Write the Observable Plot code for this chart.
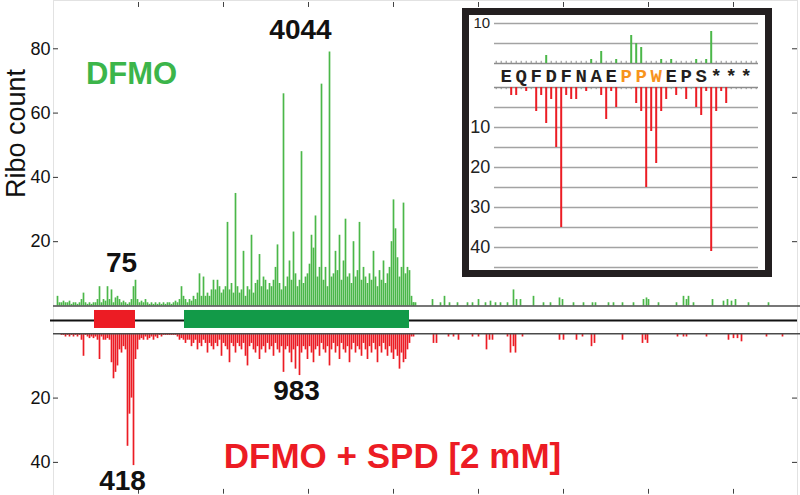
<!DOCTYPE html>
<html><head><meta charset="utf-8">
<script src="https://cdn.jsdelivr.net/npm/d3@7"></script>
<script src="https://cdn.jsdelivr.net/npm/@observablehq/plot@0.6"></script>
<style>
body{margin:0;background:#fff;}
#wrap{position:relative;width:800px;height:495px;overflow:hidden;background:#fff;}
#inset{position:absolute;left:462px;top:8px;width:310px;height:269px;box-sizing:border-box;border:7px solid #231f20;background:#fff;}
svg{display:block;}
</style></head><body>
<div id="wrap"><div id="main"></div><div id="inset"></div></div>
<script>
// ---------- DATA (main chart, positions in nt) ----------
const binStart = 24, binStep = 12; // dense read-out bins along the transcript
const greenDense = [
3,1,1,1.5,1,1,1.5,0.5,1,1,
0.5,1,2,4,1,0.5,1,0.5,1,1,
2,6,1,2,1.5,6,2,5,1,2.5,
3,2,1,1.5,1,0.5,1,2,6,8,
2,1,1.5,1,2,1,0.5,1,0.5,1,
0.5,1,0.5,1,0.5,1,1,0.5,1,1.5,
1,2,6,3,2,1,2,1.5,3,2,
4,10,3,9,3,4,3,5,8,5,
8,6,4,5,6,26,5,7,4,35,
6,4,5,17,3,6,5,22,4,7,
8,16,6,9,8,5,7,6,8,12,
19,7,5,66,6,9,14,8,23,10,
6,8,48,7,9,10,13,22,18,28,
9,12,69,8,12,6,79,9,10,17,
11,22,8,14,27,9,10,7,20,9,
11,26,8,12,9,7,10,8,17,9,
6,11,8,14,7,10,12,20,33,24,
15,9,12,32,10,12,11,3,1,1];
const redDense = [
0,0,0.5,0.5,1,0.5,1,0.5,1,0.5,
1,0.5,2,7,0.5,1,1.5,1,1.5,1,
2,8,1,2,2,1.5,2,9,14,12,
10,5,6,4,5,35,25,20,41,8,
5,2,1.5,2,1,2,1.5,1,2,1,
1.5,0.5,1,0.5,0.5,0.5,0.5,0.5,0.5,0.5,
1,2,1.5,2,3,2,2,4,3,2,
5,3,4,2,3,6,3,4,5,3,
4,2,7,3,4,5,9,3,4,6,
3,4,5,3,7,10,4,3,5,6,
4,8,5,4,6,3,5,4,7,3,
5,6,4,12,5,4,6,9,5,11,
4,13,6,4,5,8,4,6,9,5,
4,7,3,5,6,4,10,5,3,6,
4,8,3,5,6,4,9,5,3,6,
4,5,7,3,5,8,4,6,3,5,
9,4,6,3,5,7,4,6,8,5,
7,11,6,9,8,5,3,1,1,0];
const green3Pos = [2160,2274,2322,2346,2376,2424,2484,2514,2550,2592,2622,2652,2682,2724,2760,2778,2802,2880,2940,2982,3036,3054,3120,3180,3234,3252,3330,3360,3414,3480,3540,3558,3570,3630,3738,3780,3798,3810,3840,3954,4020,4044,4068,4092,4170,4290];
const green3Val = [1,2,1,3,1,1,1,1,2,1,1.5,1,1,1,5,2,2,3,1,1,2.5,2,1,1,1,1,1,1,1,1,2,2.5,2,1,1,3,2,3,1,2,1.5,2,1.5,2,1,1];
const red3Pos = [2280,2298,2370,2400,2430,2514,2550,2598,2616,2634,2724,2742,2760,2772,2814,3036,3060,3138,3174,3228,3246,3414,3534,3552,3564,3744,3780,3798,3918,4050,4080,4104,4128,4278,4374];
const red3Val = [3,3,1,1,2,1,1,5,2,2,1,6,4,6,1,2,2,2,1,4,3,2,3,2,3,1,1,1,1,2,1.5,1.5,2.5,1,1];
const uorf = [246, 492];
const cds = [786, 2136];
const topTicks = [20, 40, 60, 80];
const bottomTicks = [20, 40];
const xTicks = [510, 1020, 1530, 2040, 2550, 3060, 3570, 4080];
const countLabels = [
  {text: "4044", x: 1482, v: 91.85},
  {text: "75", x: 408, v: 19.07},
  {text: "983", x: 1458, v: -20.75},
  {text: "418", x: 414, v: -48.5}
];

// ---------- DATA (inset, positions in nt of the uORF end) ----------
const letters = ["E","Q","F","D","F","N","A","E","P","P","W","E","P","S","*","*","*"];
const highlighted = [8, 9, 10];
const insetGreenPos = [9,18,20,23,26,27,28,32,34,39,41,42];
const insetGreenVal = [2,1,3,1,7,5,4,1,1,1,1,8];
const insetRedPos = [2,3,5,7,8,9,10,11,12,13,14,15,17,20,21,22,23,27,28,29,30,31,32,33,35,37,39,40,41,42,43,44,45];
const insetRedVal = [2,2,1,6,2,9,3,15,35,2,3,3,1,2,8,1,5,4,6,25,11,19,6,3,2,3,5,7,1,41,6,1,4];
const insetTopTicks = [10];
const insetBottomTicks = [10, 20, 30, 40];
const insetGridTop = [5, 10];
const insetGridBottom = [5,10,15,20,25,30,35,40,45];

// ---------- colours ----------
const GREEN = "#4bb749", RED = "#ec1c24", BOXGREEN = "#129a48", ORANGE = "#f7941d";
const TXTGREEN = "#3cb54a";

// ---------- main chart ----------
const G = 8.65; // gap (in count units) between the two panels, holds the gene map
const greenRows = greenDense.map((v, i) => ({x: binStart + i * binStep, v}))
  .concat(green3Pos.map((x, i) => ({x, v: green3Val[i]})));
const redRows = redDense.map((v, i) => ({x: binStart + i * binStep, v}))
  .concat(red3Pos.map((x, i) => ({x, v: red3Val[i]})));

const sans = "Liberation Sans, Arial, Helvetica, sans-serif";
const main = Plot.plot({
  width: 800, height: 495,
  marginTop: 0, marginBottom: 0, marginLeft: 53, marginRight: 3,
  x: {domain: [0, 4464], axis: null},
  y: {domain: [-50.3, 103.67], axis: null},
  style: {background: "transparent", overflow: "visible"},
  marks: [
    Plot.frame({stroke: "#e2e2e2"}),
    Plot.ruleX(greenRows, {x: "x", y1: G, y2: d => G + d.v, stroke: GREEN, strokeWidth: 1.7}),
    Plot.ruleX(redRows, {x: "x", y1: 0, y2: d => -d.v, stroke: RED, strokeWidth: 1.7}),
    Plot.ruleY([G, 0], {x1: 0, x2: 4482, stroke: "#4a4a4a", strokeWidth: 1.5}),
    Plot.ruleY([4.14], {x1: -18, x2: 4464, stroke: "#111", strokeWidth: 2.2}),
    Plot.rect([uorf], {x1: d => d[0], x2: d => d[1], y1: 1.65, y2: 7.25, fill: RED}),
    Plot.rect([cds], {x1: d => d[0], x2: d => d[1], y1: 1.65, y2: 7.25, fill: BOXGREEN}),
    // y ticks (inward) left and right
    Plot.ruleY(topTicks, {y: d => G + d, x1: 0, x2: 30, stroke: "#333"}),
    Plot.ruleY(bottomTicks, {y: d => -d, x1: 0, x2: 30, stroke: "#333"}),
    Plot.ruleY(topTicks, {y: d => G + d, x1: 4434, x2: 4464, stroke: "#333"}),
    Plot.ruleY(bottomTicks, {y: d => -d, x1: 4434, x2: 4464, stroke: "#333"}),
    Plot.text(topTicks, {x: -18, y: d => G + d, text: d => String(d), textAnchor: "end", lineAnchor: "middle", fontSize: 18, fontFamily: sans, fill: "#111"}),
    Plot.text(bottomTicks, {x: -18, y: d => -d, text: d => String(d), textAnchor: "end", lineAnchor: "middle", fontSize: 18, fontFamily: sans, fill: "#111"}),
    // x ticks top and bottom (inward)
    Plot.ruleX(xTicks, {x: d => d, y1: 103.05, y2: 101.5, stroke: "#444"}),
    Plot.ruleX(xTicks, {x: d => d, y1: -48.4, y2: -49.9, stroke: "#444"}),
    // labels
    Plot.text(["Ribo count"], {x: -222, y: 62.3, text: d => d, rotate: -90, fontSize: 27, fontFamily: sans, fill: "#111", lineAnchor: "middle"}),
    Plot.text(["DFMO"], {x: 468, y: 77.85, text: d => d, fontSize: 31, fontWeight: "bold", fontFamily: sans, fill: TXTGREEN, lineAnchor: "bottom", letterSpacing: 2}),
    Plot.text(["DFMO + SPD [2 mM]"], {x: 2034, y: -41.6, text: d => d, fontSize: 35, fontWeight: "bold", fontFamily: sans, fill: RED, lineAnchor: "bottom"}),
    Plot.text(countLabels, {x: "x", y: "v", text: "text", fontSize: 28, fontWeight: "bold", fontFamily: sans, fill: "#111", lineAnchor: "bottom"})
  ]
});
document.getElementById("main").appendChild(main);

// ---------- inset ----------
const IG = 6;
const insetGreen = insetGreenPos.map((x, i) => ({x, v: insetGreenVal[i]}));
const insetRed = insetRedPos.map((x, i) => ({x, v: insetRedVal[i]}));
const letterRows = letters.map((t, i) => ({t, x: 3 * i + 1, hl: highlighted.includes(i)}));
const GRID = "#a3a3a3";
const mono = "Liberation Mono, Courier New, monospace";
const inset = Plot.plot({
  width: 296, height: 255, margin: 0,
  x: {domain: [-6.34, 52.86], axis: null},
  y: {domain: [-45.75, 18], axis: null},
  style: {background: "transparent", overflow: "visible"},
  marks: [
    Plot.ruleY(insetGridTop, {y: d => IG + d, x1: -1.34, x2: 51.46, stroke: GRID, strokeWidth: 1.6}),
    Plot.ruleY(insetGridBottom, {y: d => -d, x1: -1.34, x2: 51.46, stroke: GRID, strokeWidth: 1.6}),
    Plot.ruleY([IG, 0], {x1: -1.34, x2: 51.46, stroke: "#8c8c8c", strokeWidth: 1.6}),
    Plot.ruleX(d3.range(-1, 52), {x: d => d, y1: IG, y2: IG + 0.55, stroke: "#8c8c8c", strokeWidth: 1}),
    Plot.ruleX(d3.range(-1, 52), {x: d => d, y1: 0, y2: -0.55, stroke: "#8c8c8c", strokeWidth: 1}),
    Plot.ruleX(insetGreen, {x: "x", y1: IG, y2: d => IG + d.v, stroke: GREEN, strokeWidth: 2}),
    Plot.ruleX(insetRed, {x: "x", y1: 0, y2: d => -d.v, stroke: RED, strokeWidth: 2}),
    Plot.text(letterRows.filter(d => !d.hl), {x: "x", y: IG / 2, text: "t", fontFamily: mono, fontWeight: "bold", fontSize: 19, fill: "#231f20", lineAnchor: "middle"}),
    Plot.text(letterRows.filter(d => d.hl), {x: "x", y: IG / 2, text: "t", fontFamily: mono, fontWeight: "bold", fontSize: 19, fill: ORANGE, lineAnchor: "middle"}),
    Plot.text(insetTopTicks, {x: -2.2, y: d => IG + d, text: d => String(d), textAnchor: "end", lineAnchor: "middle", fontSize: 15, fontFamily: sans, fill: "#222"}),
    Plot.text(insetBottomTicks, {x: -2.2, y: d => -d, text: d => String(d), textAnchor: "end", lineAnchor: "middle", fontSize: 18, fontFamily: sans, fill: "#222"})
  ]
});
document.getElementById("inset").appendChild(inset);
</script>
</body></html>
